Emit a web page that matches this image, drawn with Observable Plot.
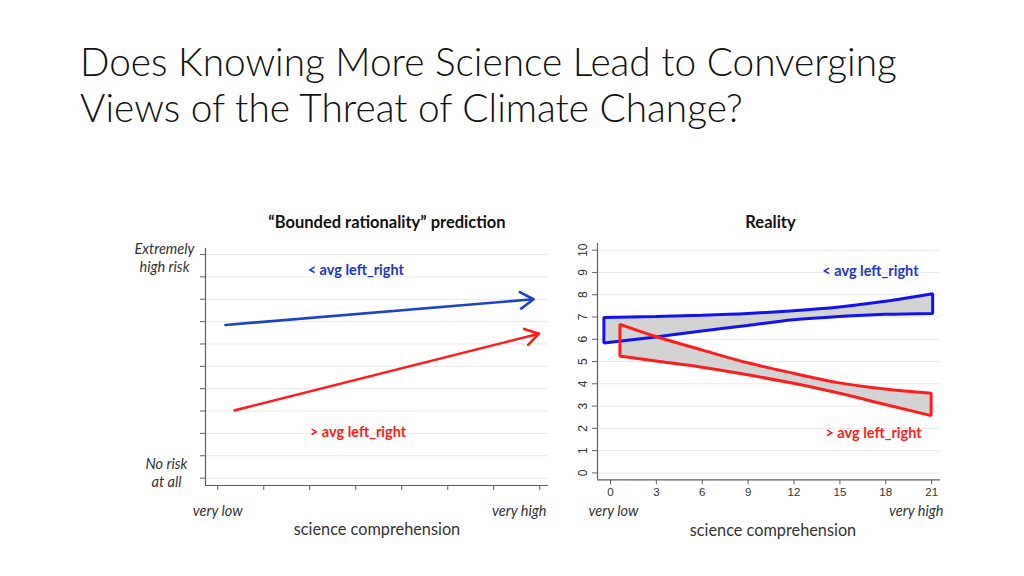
<!DOCTYPE html>
<html>
<head>
<meta charset="utf-8">
<script src="https://cdn.jsdelivr.net/npm/d3@7"></script>
<script src="https://cdn.jsdelivr.net/npm/@observablehq/plot@0.6"></script>
<style>
  html, body { margin: 0; padding: 0; background: #fff; }
  #page { position: relative; width: 1024px; height: 576px; overflow: hidden; background: #fff; }
  #title { position: absolute; left: 80px; top: 38px; font-family: Lato, "Open Sans", sans-serif; font-weight: 300; color: #111; line-height: 46px; white-space: nowrap; }
  .panel { position: absolute; }
  .panel svg { overflow: visible; }
</style>
</head>
<body>
<div id="page">
  <div id="title"></div>
  <div id="left" class="panel" style="left:120px; top:200px;"></div>
  <div id="right" class="panel" style="left:560px; top:200px;"></div>
</div>
<script>
// ---------- data ----------
const titleLines = ["Does Knowing More Science Lead to Converging", "Views of the Threat of Climate Change?"];
const leftTitle = "\u201cBounded rationality\u201d prediction";
const rightTitle = "Reality";
const seriesNames = ["< avg left_right", "> avg left_right"];
const xTicks = [0, 3, 6, 9, 12, 15, 18, 21];
const yTicks = [0, 1, 2, 3, 4, 5, 6, 7, 8, 9, 10];
const yEndLabels = ["Extremely\nhigh risk", "No risk\nat all"];
const xEndLabels = ["very low", "very high"];
const xAxisTitle = "science comprehension";

// "Bounded rationality" prediction arrows (blue, red)
const arrowX1 = [0.5, 1.1];
const arrowY1 = [6.85, 3.03];
const arrowX2 = [20.6, 20.95];
const arrowY2 = [8.0, 6.46];

// Reality bands
const blueX    = [-0.4, 3, 6, 9, 12, 15, 18, 21.1];
const blueLow  = [5.81, 6.08, 6.35, 6.6, 6.85, 7.0, 7.1, 7.14];
const blueHigh = [6.96, 7.0, 7.06, 7.14, 7.26, 7.43, 7.68, 8.02];
const redX     = [0.65, 3, 6, 9, 12, 15, 18, 21];
const redLow   = [5.22, 5.0, 4.72, 4.38, 4.0, 3.55, 3.05, 2.55];
const redHigh  = [6.65, 6.1, 5.5, 4.92, 4.45, 4.02, 3.74, 3.55];

// ---------- styling ----------
const BLUE_LINE = "#1d44c6", BLUE_OUT = "#1212f0", BLUE_TXT = "#2236c0";
const RED = "#ff1c1c";
const AX = "#606060", GRID = "#e8e8e8", TXT = "#333";
const FONT = "Lato, 'Open Sans', sans-serif";
const NUMFONT = "'Liberation Sans', Arial, sans-serif";

// ---------- title (fit width like the slide) ----------
(function () {
  const el = document.getElementById("title");
  const ctx = document.createElement("canvas").getContext("2d");
  ctx.font = "300 100px Lato";
  const w = ctx.measureText(titleLines[0]).width;
  const size = 100 * 817 / w;
  el.style.fontSize = size.toFixed(2) + "px";
  el.innerHTML = titleLines.map(t => `<div>${t}</div>`).join("");
})();

const arrows = seriesNames.map((s, i) => ({s, x1: arrowX1[i], y1: arrowY1[i], x2: arrowX2[i], y2: arrowY2[i]}));
const blueBand = blueX.map((x, i) => ({x, lo: blueLow[i], hi: blueHigh[i]}));
const redBand = redX.map((x, i) => ({x, lo: redLow[i], hi: redHigh[i]}));

const T = (extra) => Object.assign({text: d => d, fill: TXT, lineAnchor: "middle", textAnchor: "middle"}, extra);

// ---------- left panel ----------
const left = Plot.plot({
  width: 440, height: 340,
  marginLeft: 85, marginRight: 12, marginTop: 48, marginBottom: 55,
  x: {domain: [-0.8, 21.57]},
  y: {domain: [-0.33, 10.27]},
  style: {fontFamily: FONT, background: "transparent", color: TXT},
  marks: [
    Plot.gridY(yTicks, {stroke: GRID, strokeOpacity: 1}),
    Plot.axisY(yTicks, {tickSize: 5, stroke: AX, tickFormat: () => "", label: null}),
    Plot.axisX(xTicks, {tickSize: 5, stroke: AX, tickFormat: () => "", label: null}),
    Plot.ruleX([-0.8], {stroke: AX, strokeWidth: 1.2}),
    Plot.ruleY([-0.33], {stroke: AX, strokeWidth: 1.2}),
    Plot.arrow(arrows, {x1: "x1", y1: "y1", x2: "x2", y2: "y2",
      stroke: (d, i) => i === 0 ? BLUE_LINE : RED, strokeWidth: 2.6, headLength: 9, headAngle: 64}),
    Plot.text([seriesNames[0]], T({x: 9.0, y: 9.3, fill: BLUE_TXT, fontWeight: "bold", fontSize: 14.5})),
    Plot.text([seriesNames[1]], T({x: 9.15, y: 2.03, fill: RED, fontWeight: "bold", fontSize: 14.5})),
    Plot.text([yEndLabels[0]], T({y: 10, frameAnchor: "left", dx: -41, dy: 3, fontStyle: "italic", fontSize: 14.5, lineHeight: 1.25})),
    Plot.text([yEndLabels[1]], T({y: 0, frameAnchor: "left", dx: -39, dy: -6, fontStyle: "italic", fontSize: 14.5, lineHeight: 1.25})),
    Plot.text([xEndLabels[0]], T({x: 0, frameAnchor: "bottom", dy: 26, fontStyle: "italic", fontSize: 14.5})),
    Plot.text([xEndLabels[1]], T({frameAnchor: "bottom-right", dy: 26, dx: -2, textAnchor: "end", fontStyle: "italic", fontSize: 14.5})),
    Plot.text([xAxisTitle], T({frameAnchor: "bottom", dy: 44, fontSize: 16.3})),
    Plot.text([leftTitle], T({frameAnchor: "top", dx: 10, dy: -26, fontWeight: "bold", fontSize: 16.5, fill: "#111"}))
  ]
});
document.getElementById("left").appendChild(left);

// ---------- right panel ----------
const right = Plot.plot({
  width: 400, height: 340,
  marginLeft: 37, marginRight: 20, marginTop: 43, marginBottom: 60.7,
  x: {domain: [-0.85, 21.58]},
  y: {domain: [-0.31, 10.3]},
  style: {fontFamily: FONT, background: "transparent", color: TXT},
  marks: [
    Plot.gridY(yTicks, {stroke: GRID, strokeOpacity: 1}),
    Plot.axisY(yTicks, {tickSize: 5, stroke: AX, tickFormat: () => "", label: null}),
    Plot.text(yTicks, T({y: d => d, frameAnchor: "left", dx: -14, rotate: -90, text: d => String(d), fontFamily: NUMFONT, fontSize: 12})),
    Plot.axisX(xTicks, {tickSize: 5, tickPadding: 3, stroke: AX, fill: TXT, fontFamily: NUMFONT, fontSize: 11.5, label: null}),
    Plot.ruleX([-0.85], {stroke: AX, strokeWidth: 1.2}),
    Plot.ruleY([-0.31], {stroke: AX, strokeWidth: 1.2}),
    Plot.areaY(blueBand, {x: "x", y1: "lo", y2: "hi", fill: "#d3d3d3", curve: "monotone-x"}),
    Plot.areaY(redBand, {x: "x", y1: "lo", y2: "hi", fill: "#d3d3d3", curve: "monotone-x"}),
    Plot.areaY(blueBand, {x: "x", y1: "lo", y2: "hi", fill: "none", stroke: BLUE_OUT, strokeWidth: 3, strokeLinejoin: "miter", curve: "monotone-x"}),
    Plot.areaY(redBand, {x: "x", y1: "lo", y2: "hi", fill: "none", stroke: RED, strokeWidth: 3, strokeLinejoin: "miter", curve: "monotone-x"}),
    Plot.text([seriesNames[0]], T({x: 17.0, y: 9.07, fill: BLUE_TXT, fontWeight: "bold", fontSize: 14.5})),
    Plot.text([seriesNames[1]], T({x: 17.2, y: 1.79, fill: RED, fontWeight: "bold", fontSize: 14.5})),
    Plot.text([xEndLabels[0]], T({x: 0, frameAnchor: "bottom", dy: 32, dx: 3, fontStyle: "italic", fontSize: 14.5})),
    Plot.text([xEndLabels[1]], T({frameAnchor: "bottom-right", dy: 32, dx: 3, textAnchor: "end", fontStyle: "italic", fontSize: 14.5})),
    Plot.text([xAxisTitle], T({frameAnchor: "bottom", dy: 50.5, dx: 4, fontSize: 16.3})),
    Plot.text([rightTitle], T({frameAnchor: "top", dx: 1.5, dy: -21, fontWeight: "bold", fontSize: 16.5, fill: "#111"}))
  ]
});
document.getElementById("right").appendChild(right);
</script>
</body>
</html>
